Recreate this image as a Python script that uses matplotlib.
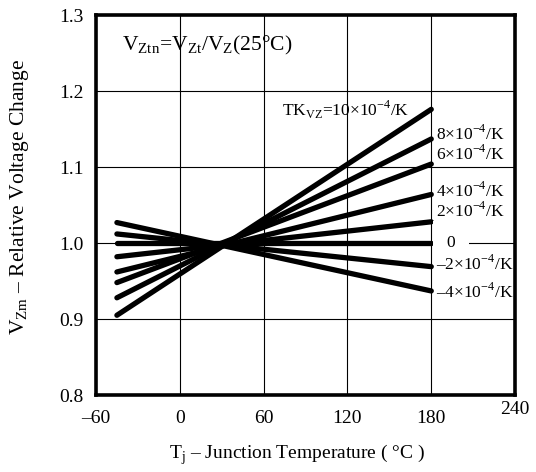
import matplotlib
matplotlib.use('Agg')
import matplotlib.pyplot as plt
import matplotlib.transforms as mtransforms

plt.rcParams['font.family'] = ['Liberation Serif', 'DejaVu Serif']
plt.rcParams['mathtext.fontset'] = 'custom'
plt.rcParams['mathtext.rm'] = 'Liberation Serif'

# data: start (-45 C) and end (180 C) values of each line
t_start, t_end = -45, 180
coeffs = [10, 8, 6, 4, 2, 0, -2, -4]
v_start = [0.905, 0.928, 0.948, 0.962, 0.982, 1.000, 1.012, 1.027]
v_end = [1.176, 1.137, 1.104, 1.064, 1.028, 1.000, 0.969, 0.937]

labels = [r'TK$_{\mathregular{VZ}}$=10×10$^{\mathregular{-4}}$/K',
          r'8×10$^{\mathregular{-4}}$/K',
          r'6×10$^{\mathregular{-4}}$/K',
          r'4×10$^{\mathregular{-4}}$/K',
          r'2×10$^{\mathregular{-4}}$/K',
          '0',
          r'–2×10$^{\mathregular{-4}}$/K',
          r'–4×10$^{\mathregular{-4}}$/K']
label_y = [1.175, 1.143, 1.117, 1.068, 1.042, 1.0, 0.972, 0.936]

xticks = [-60, 0, 60, 120, 180]
xtick_labels = ['–60', '0', '60', '120', '180']
yticks = [0.8, 0.9, 1.0, 1.1, 1.2, 1.3]

fig = plt.figure(figsize=(5.36, 4.72), dpi=100)
ax = fig.add_axes([0.179, 0.163, 0.782, 0.805])

for vs, ve in zip(v_start, v_end):
    ax.plot([t_start, t_end], [vs, ve], color='black', lw=3.8,
            solid_capstyle='round', zorder=3)

ax.set_xlim(-60, 240)
ax.set_ylim(0.8, 1.3)
ax.set_xticks(xticks)
ax.set_xticklabels(xtick_labels)
ax.set_yticks(yticks)
ax.set_yticklabels([f'{v:.1f}' for v in yticks])
ax.tick_params(length=0, labelsize=14)
ax.tick_params(axis='x', pad=11)
ax.tick_params(axis='y', pad=9)
ax.grid(True, color='black', lw=0.8)
for s in ax.spines.values():
    s.set_linewidth(2.6)

# the 240 label sits higher than the others
trans = mtransforms.blended_transform_factory(ax.transData, ax.transAxes)
ax.text(240, -0.016, '240', transform=trans, ha='center', va='top',
        fontsize=14, clip_on=False)

for i, (lab, ly) in enumerate(zip(labels, label_y)):
    if i == 0:
        ax.text(164, ly, lab, ha='right', va='center', fontsize=12.5, zorder=4)
    elif lab == '0':
        ax.text(194, ly, lab, ha='center', va='center', fontsize=12.5, zorder=4,
                bbox=dict(facecolor='white', edgecolor='none', pad=10))
    else:
        ax.text(183.5, ly, lab, ha='left', va='center', fontsize=12.5, zorder=4,
                clip_on=False)

ax.text(-41, 1.26, r'V$_{\mathregular{Ztn}}$=V$_{\mathregular{Zt}}$/V$_{\mathregular{Z}}$(25°C)',
        ha='left', va='center', fontsize=15.5)

ax.set_xlabel(r'T$_{\mathregular{j}}$ – Junction Temperature ( °C )', fontsize=14)
ax.xaxis.set_label_coords(0.48, -0.125)
ax.xaxis.label.set_va('top')
fig.text(0.036, 0.583, r'V$_{\mathregular{Zm}}$ – Relative Voltage Change',
         rotation=90, ha='center', va='center', fontsize=15.5)

plt.savefig('out.png', dpi=100)
